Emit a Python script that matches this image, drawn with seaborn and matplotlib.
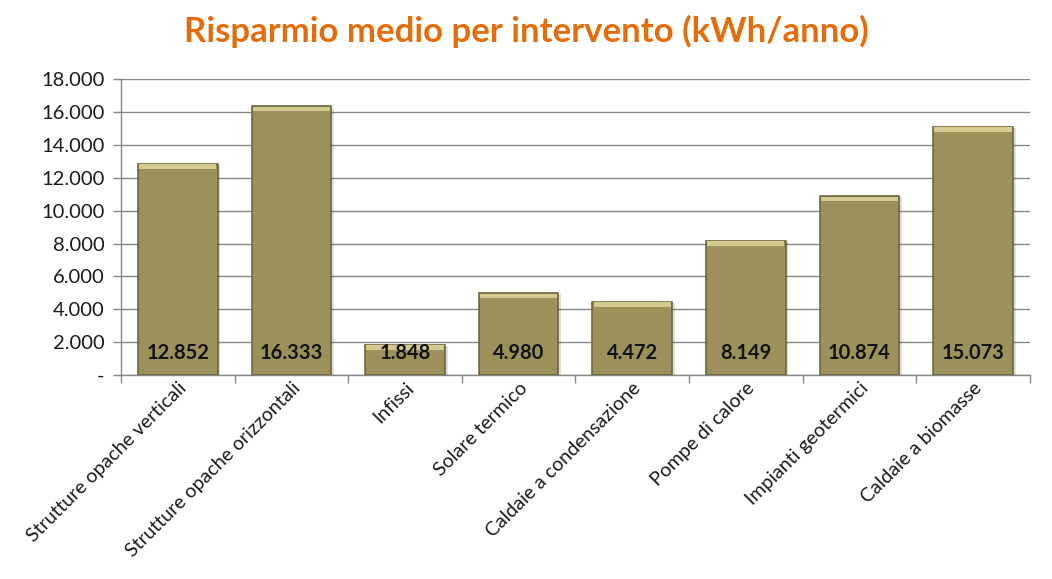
import matplotlib
matplotlib.use("Agg")
import matplotlib.pyplot as plt
import seaborn as sns
import pandas as pd
from matplotlib.ticker import FuncFormatter, FixedLocator
from matplotlib.patches import Rectangle

categories = ["Strutture opache verticali", "Strutture opache orizzontali", "Infissi",
              "Solare termico", "Caldaie a condensazione", "Pompe di calore",
              "Impianti geotermici", "Caldaie a biomasse"]
values = [12852, 16333, 1848, 4980, 4472, 8149, 10874, 15073]
title = "Risparmio medio per intervento (kWh/anno)"

sns.set_theme(style="white")
plt.rcParams['font.family'] = ['Lato', 'DejaVu Sans']

df = pd.DataFrame({"cat": categories, "val": values})

fig = plt.figure(figsize=(10.52, 5.79), dpi=100)
ax = fig.add_axes([0.115, 0.352, 0.864, 0.5116])

bar_color = "#9C915A"
sns.barplot(data=df, x="cat", y="val", color=bar_color, saturation=1, width=0.70,
            edgecolor="#6E673C", linewidth=1.2, ax=ax, zorder=3)

ax.set_ylim(0, 18000)
ax.set_xlim(-0.5, len(categories) - 0.5)
ax.set_yticks(range(0, 18001, 2000))

def fmt(v, pos):
    if v == 0:
        return "-"
    return f"{int(v):,}".replace(",", ".")

ax.yaxis.set_major_formatter(FuncFormatter(fmt))
ax.yaxis.grid(True, color="#878787", linewidth=1.0, zorder=0)
ax.set_axisbelow(True)

for s in ["top", "right"]:
    ax.spines[s].set_visible(False)
for s in ["left", "bottom"]:
    ax.spines[s].set_color("#878787")
    ax.spines[s].set_linewidth(1.0)

ax.tick_params(axis="y", left=True, length=6, width=1, color="#878787",
               labelsize=14.5, labelcolor="#1a1a1a", pad=6)
ax.tick_params(axis="x", which="major", length=0, labelsize=14, labelcolor="#1a1a1a", pad=3)
ax.xaxis.set_minor_locator(FixedLocator([i - 0.5 for i in range(len(categories) + 1)]))
ax.tick_params(axis="x", which="minor", bottom=True, length=6, width=1, color="#878787")

ax.set_xlabel("")
ax.set_ylabel("")
for lab in ax.get_xticklabels():
    lab.set_rotation(45)
    lab.set_ha("right")
    lab.set_va("top")
    lab.set_rotation_mode("anchor")

# bevel highlight on top of each bar and shadow
for p in ax.patches:
    x0, y0 = p.get_x(), p.get_y()
    w, h = p.get_width(), p.get_height()
    sh = Rectangle((x0 + 0.025, y0), w, h - 60, transform=ax.transData,
                   facecolor="#000000", alpha=0.13, zorder=2.5, linewidth=0)
    ax.add_patch(sh)
    top = Rectangle((x0 + 0.01, y0 + h - 300), w - 0.02, 280, facecolor="#D3CA8F",
                    edgecolor="none", zorder=3.5)
    ax.add_patch(top)

for i, v in enumerate(values):
    ax.annotate(fmt(v, None), xy=(i, 0), xytext=(0, 16), textcoords="offset points",
                ha="center", va="center", fontsize=14.5, fontweight="bold",
                color="#111111", zorder=5)

fig.text(0.5, 0.945, title, ha="center", va="center", fontsize=25,
         fontweight="bold", color="#E46C0A")

fig.savefig("out.png", dpi=100)
